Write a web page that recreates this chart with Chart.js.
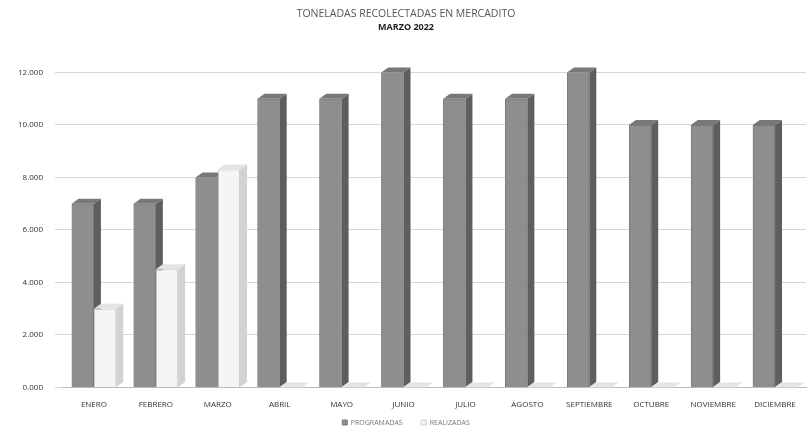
<!DOCTYPE html>
<html>
<head>
<meta charset="utf-8">
<script src="https://cdn.jsdelivr.net/npm/chart.js@4.4.0/dist/chart.umd.min.js"></script>
<style>
  html, body { margin: 0; padding: 0; background: #ffffff; }
  #wrap { width: 808px; height: 431px; }
</style>
</head>
<body>
<div id="wrap"><canvas id="grafica"></canvas></div>
<script>
	// datos (toneladas)
	var meses = ['ENERO','FEBRERO','MARZO','ABRIL','MAYO','JUNIO','JULIO','AGOSTO','SEPTIEMBRE','OCTUBRE','NOVIEMBRE','DICIEMBRE'];
	var programadas = [7, 7, 8, 11, 11, 12, 11, 11, 12, 10, 10, 10];
	var realizadas = [3, 4.5, 8.3, 0, 0, 0, 0, 0, 0, 0, 0, 0];
	var ticksY = [0, 2, 4, 6, 8, 10, 12];

	// colores de cada serie: lado y arriba
	var caras = [
		{ side: '#5e5e5e', top: '#787878' },
		{ side: '#d2d2d2', top: '#e4e4e4' }
	];

	// efecto 3D: lado derecho y cara superior de cada barra
	var barras3d = {
		id: 'barras3d',
		afterDatasetsDraw: function(chart){
			var ctx = chart.ctx;
			var dx = 7, dy = 5;
			for (var d = 0; d < chart.data.datasets.length; d++){
				var meta = chart.getDatasetMeta(d);
				meta.data.forEach(function(bar){
					var p = bar.getProps(['x','y','base','width'], true);
					var l = p.x - p.width/2, r = p.x + p.width/2;
					bar.draw(ctx);
					ctx.save();
					// lado
					ctx.fillStyle = caras[d].side;
					ctx.beginPath();
					ctx.moveTo(r, p.y);
					ctx.lineTo(r + dx, p.y - dy);
					ctx.lineTo(r + dx, p.base - dy);
					ctx.lineTo(r, p.base);
					ctx.closePath();
					ctx.fill();
					// arriba
					ctx.fillStyle = caras[d].top;
					ctx.beginPath();
					ctx.moveTo(l, p.y);
					ctx.lineTo(r, p.y);
					ctx.lineTo(r + dx, p.y - dy);
					ctx.lineTo(l + dx, p.y - dy);
					ctx.closePath();
					ctx.fill();
					ctx.restore();
				});
			}
		}
	};

	new Chart(document.getElementById('grafica'), {
		type: 'bar',
		data: {
			labels: meses,
			datasets: [{
				label: 'PROGRAMADAS',
				data: programadas,
				backgroundColor: '#8e8e8e',
				borderColor: '#7a7a7a',
				borderWidth: 1,
				barPercentage: 1,
				categoryPercentage: 0.72
			},{
				label: 'REALIZADAS',
				data: realizadas,
				backgroundColor: '#f5f5f5',
				borderColor: '#cfcfcf',
				borderWidth: 1,
				barPercentage: 1,
				categoryPercentage: 0.72
			}]
		},
		options: {
			responsive: true,
			maintainAspectRatio: false,
			animation: false,
			layout: { padding: { left: 6, right: 2, top: 0, bottom: -5 } },
			plugins: {
				title: {
					display: true,
					text: 'TONELADAS RECOLECTADAS EN MERCADITO',
					color: '#555',
					font: { family: 'Open Sans', size: 10.5, weight: 'normal' },
					padding: { top: 8, bottom: 1 }
				},
				subtitle: {
					display: true,
					text: 'MARZO 2022',
					color: '#222',
					font: { family: 'Open Sans', size: 9, weight: 'bold' },
					padding: { bottom: 40 }
				},
				legend: {
					position: 'bottom',
					labels: {
						boxWidth: 5,
						boxHeight: 5,
						color: '#777',
						font: { family: 'Open Sans', size: 7 },
						padding: 4,
						// espacio entre las dos entradas
						generateLabels: function(chart){
							var items = Chart.defaults.plugins.legend.labels.generateLabels(chart);
							items[0].text = items[0].text + '\u00a0\u00a0\u00a0\u00a0\u00a0\u00a0\u00a0\u00a0';
							return items;
						}
					}
				},
				tooltip: { enabled: false }
			},
			scales: {
				x: {
					grid: { display: false },
					border: { color: '#bbbbbb' },
					ticks: {
						color: '#333',
						padding: 5,
						font: { family: 'Open Sans', size: 8 },
						maxRotation: 0,
						autoSkip: false
					}
				},
				y: {
					min: 0,
					max: 12,
					afterBuildTicks: function(axis){
						axis.ticks = ticksY.map(function(v){ return { value: v }; });
					},
					grid: { color: '#d6d6d6' },
					border: { display: false },
					ticks: {
						color: '#333',
						padding: 12,
						font: { family: 'Open Sans', size: 8 },
						callback: function(v){ return v.toFixed(3); }
					}
				}
			}
		},
		plugins: [barras3d]
	});
</script>
</body>
</html>
